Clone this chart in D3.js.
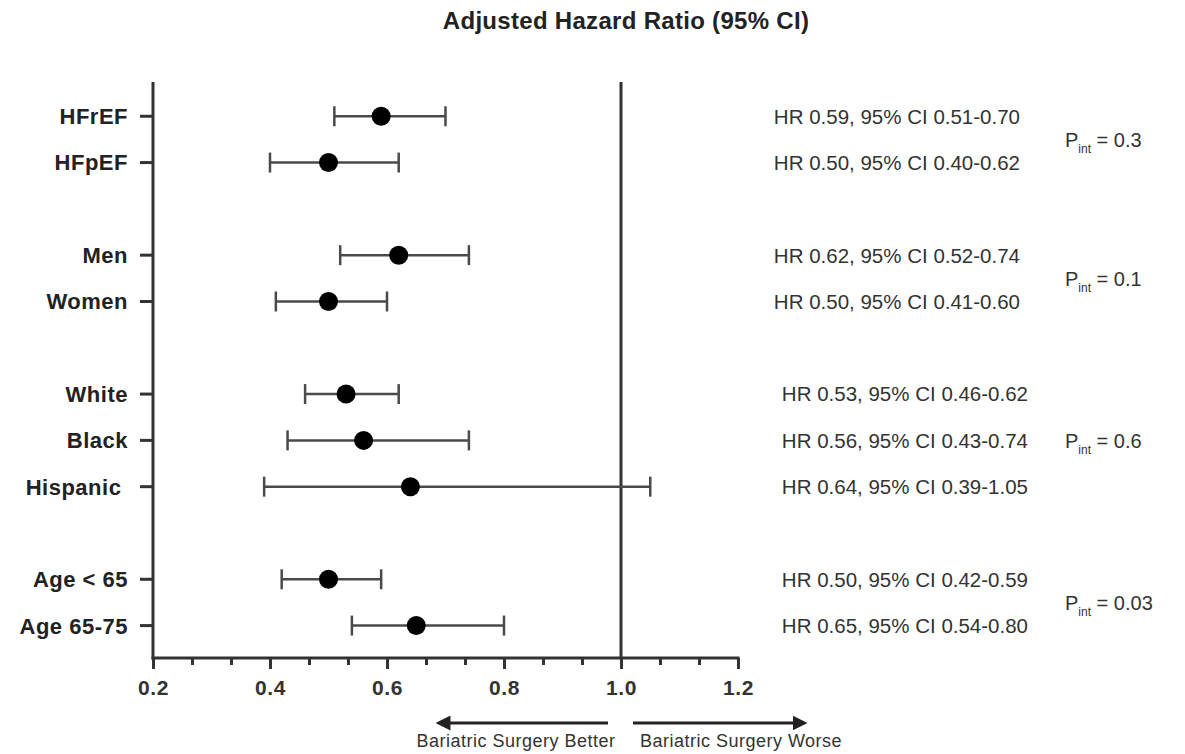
<!DOCTYPE html>
<html>
    <head>
        <meta charset="UTF-8">
        <title>forest</title>
        <style type="text/css">
            body {
                margin: 0;
                background: #ffffff;
                font-family: "Liberation Sans", Arial, sans-serif;
            }
            .row-label {
                white-space: pre;
            }
        </style>
        <script src="https://d3js.org/d3.v7.min.js"></script>
    </head>
    <body>
        <div id="plot"></div>
        <script>
            // subgroups, top to bottom; row index leaves blank rows between groups
            const labels = ["HFrEF", "HFpEF", "Men", "Women", "White", "Black", "Hispanic ", "Age < 65", "Age 65-75"];
            const rows = [0, 1, 3, 4, 6, 7, 8, 10, 11];
            const hr = [0.59, 0.50, 0.62, 0.50, 0.53, 0.56, 0.64, 0.50, 0.65];
            const lo = [0.51, 0.40, 0.52, 0.41, 0.46, 0.43, 0.39, 0.42, 0.54];
            const hi = [0.70, 0.62, 0.74, 0.60, 0.62, 0.74, 1.05, 0.59, 0.80];

            // interaction p values, one per group
            const pVals = ["0.3", "0.1", "0.6", "0.03"];
            const pRows = [0.5, 3.5, 7, 10.5];

            const xTicks = [0.2, 0.4, 0.6, 0.8, 1.0, 1.2];

            const width = 1185, height = 754;

            const svg = d3.select("#plot")
                .append("svg")
                .attr("width", width)
                .attr("height", height);

            const x = d3.scaleLinear().domain([0.2, 1.2]).range([153, 738]);
            const y = d3.scaleLinear().domain([-0.74, 11.7]).range([82, 658]);

            // title
            svg.append("text")
                .attr("x", 626)
                .attr("y", 29)
                .attr("text-anchor", "middle")
                .attr("font-weight", "bold")
                .attr("font-size", 24)
                .attr("letter-spacing", 0.3)
                .attr("fill", "#222")
                .text("Adjusted Hazard Ratio (95% CI)");

            // reference line at HR = 1
            svg.append("line")
                .attr("x1", x(1)).attr("x2", x(1))
                .attr("y1", y.range()[0]).attr("y2", y.range()[1])
                .attr("stroke", "#333").attr("stroke-width", 3);

            // x axis: major ticks every 0.2, two minor ticks between
            const minor = d3.range(0, 16).map(i => 0.2 + i / 15);
            const xAxis = svg.append("g")
                .attr("transform", `translate(0, ${y.range()[1]})`);
            xAxis.append("g")
                .call(d3.axisBottom(x).tickValues(minor).tickSize(7).tickFormat(""))
                .call(g => g.select(".domain").remove());
            xAxis.append("g")
                .call(d3.axisBottom(x).tickValues(xTicks).tickSize(11).tickPadding(11).tickFormat(d3.format(".1f")))
                .call(g => g.select(".domain").remove());
            xAxis.selectAll("line").attr("stroke", "#333").attr("stroke-width", 3);
            xAxis.selectAll("text")
                .attr("font-family", "Liberation Sans, Arial, sans-serif")
                .attr("font-weight", "bold")
                .attr("font-size", 21)
                .attr("letter-spacing", 0.6)
                .attr("fill", "#333");
            xAxis.append("line")
                .attr("x1", x(0.2) - 1.5).attr("x2", x(1.2) + 1.5)
                .attr("stroke", "#333").attr("stroke-width", 3);

            // y axis with row labels
            const yAxis = svg.append("g");
            yAxis.append("line")
                .attr("x1", x(0.2)).attr("x2", x(0.2))
                .attr("y1", y.range()[0]).attr("y2", y.range()[1] + 1.5)
                .attr("stroke", "#333").attr("stroke-width", 3);
            labels.forEach((d, i) => {
                yAxis.append("line")
                    .attr("x1", x(0.2) - 13).attr("x2", x(0.2))
                    .attr("y1", y(rows[i])).attr("y2", y(rows[i]))
                    .attr("stroke", "#333").attr("stroke-width", 3);
                yAxis.append("text")
                    .attr("class", "row-label")
                    .attr("x", x(0.2) - 25)
                    .attr("y", y(rows[i]))
                    .attr("dy", "0.36em")
                    .attr("text-anchor", "end")
                    .attr("font-weight", "bold")
                    .attr("font-size", 22)
                    .attr("letter-spacing", 0.5)
                    .attr("fill", "#222")
                    .text(d);
            });

            // error bars and points
            const marks = svg.append("g");
            labels.forEach((d, i) => {
                const cy = y(rows[i]);
                marks.append("line")
                    .attr("x1", x(lo[i])).attr("x2", x(hi[i]))
                    .attr("y1", cy).attr("y2", cy)
                    .attr("stroke", "#4a4a4a").attr("stroke-width", 2.5);
                [lo[i], hi[i]].forEach(v => {
                    marks.append("line")
                        .attr("x1", x(v)).attr("x2", x(v))
                        .attr("y1", cy - 10).attr("y2", cy + 10)
                        .attr("stroke", "#4a4a4a").attr("stroke-width", 2.5);
                });
                marks.append("circle")
                    .attr("cx", x(hr[i])).attr("cy", cy)
                    .attr("r", 9.5)
                    .attr("fill", "#000");
            });

            // HR text on the right (lower two groups sit a little further right)
            const f2 = d3.format(".2f");
            labels.forEach((d, i) => {
                svg.append("text")
                    .attr("x", rows[i] < 6 ? 1020 : 1028)
                    .attr("y", y(rows[i]))
                    .attr("dy", "0.36em")
                    .attr("text-anchor", "end")
                    .attr("font-size", 20.5)
                    .attr("fill", "#333")
                    .text(`HR ${f2(hr[i])}, 95% CI ${f2(lo[i])}-${f2(hi[i])}`);
            });

            // P interaction
            pVals.forEach((p, i) => {
                const t = svg.append("text")
                    .attr("x", 1065)
                    .attr("y", y(pRows[i]))
                    .attr("dy", "0.36em")
                    .attr("font-size", 20)
                    .attr("fill", "#333");
                t.append("tspan").text("P");
                t.append("tspan").attr("font-size", 12).attr("dy", 6).text("int");
                t.append("tspan").attr("dy", -6).text(` = ${p}`);
            });

            // direction arrows
            svg.append("defs").append("marker")
                .attr("id", "head")
                .attr("viewBox", "0 0 10 10")
                .attr("refX", 5).attr("refY", 5)
                .attr("markerWidth", 5).attr("markerHeight", 5)
                .attr("orient", "auto-start-reverse")
                .append("path")
                .attr("d", "M0,0 L10,5 L0,10 Z")
                .attr("fill", "#222");

            const ay = 723;
            svg.append("line")
                .attr("x1", 608).attr("x2", 443)
                .attr("y1", ay).attr("y2", ay)
                .attr("stroke", "#222").attr("stroke-width", 3)
                .attr("marker-end", "url(#head)");
            svg.append("line")
                .attr("x1", 633).attr("x2", 800)
                .attr("y1", ay).attr("y2", ay)
                .attr("stroke", "#222").attr("stroke-width", 3)
                .attr("marker-end", "url(#head)");

            svg.append("text")
                .attr("x", 516).attr("y", 747)
                .attr("text-anchor", "middle")
                .attr("font-size", 18)
                .attr("letter-spacing", 0.5)
                .attr("fill", "#333")
                .text("Bariatric Surgery Better");
            svg.append("text")
                .attr("x", 741).attr("y", 747)
                .attr("text-anchor", "middle")
                .attr("font-size", 18)
                .attr("letter-spacing", 0.5)
                .attr("fill", "#333")
                .text("Bariatric Surgery Worse");
        </script>
    </body>
</html>
